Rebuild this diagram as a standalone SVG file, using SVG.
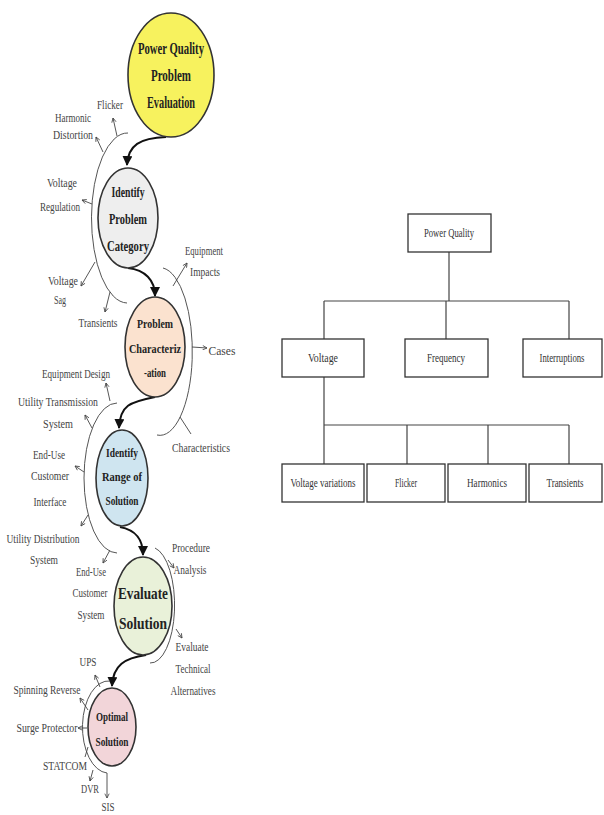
<svg xmlns="http://www.w3.org/2000/svg" width="604" height="815" viewBox="0 0 604 815">
<style>
.lb{font-family:"Liberation Serif","Times New Roman",serif;font-size:12.5px;fill:#444;text-anchor:middle}
.tb{font-family:"Liberation Serif","Times New Roman",serif;font-size:13px;fill:#333;text-anchor:middle}
.hd{font-family:"Liberation Serif","Times New Roman",serif;font-weight:bold;fill:#222;text-anchor:middle}
.nd{stroke:#333;stroke-width:1.6}
.cn{fill:none;stroke:#111;stroke-width:2}
.arc{fill:none;stroke:#555;stroke-width:1}
.ld{fill:none;stroke:#444;stroke-width:0.9}
.bx{fill:#fff;stroke:#333;stroke-width:1.3}
.tl{fill:none;stroke:#444;stroke-width:1.2}
</style>
<defs>
<marker id="ah" viewBox="0 0 10 10" refX="9" refY="5" markerWidth="5" markerHeight="5" orient="auto"><path d="M0,0 L10,5 L0,10 z" fill="#111"/></marker>
<marker id="sa" viewBox="0 0 10 10" refX="9" refY="5" markerWidth="6" markerHeight="6" orient="auto"><path d="M1,1 L9,5 L1,9" fill="none" stroke="#444" stroke-width="1.5"/></marker>
</defs>
<rect width="604" height="815" fill="#fff"/>

<g id="connectors">
<path class="cn" d="M166,137 C140,138 128,145 127,165" marker-end="url(#ah)"/>
<path class="cn" d="M128,268 C145,270 155,280 155,296" marker-end="url(#ah)"/>
<path class="cn" d="M155,397 C130,402 120,405 119,428" marker-end="url(#ah)"/>
<path class="cn" d="M120,527 C135,530 143,538 143,555" marker-end="url(#ah)"/>
<path class="cn" d="M146,655 C125,658 113,665 112,686" marker-end="url(#ah)"/>
<path class="arc" d="M128,133 A36 85 0 0 0 127,303"/>
<path class="arc" d="M163,268 A32 83 0 0 1 157,435"/>
<path class="arc" d="M117,403 A33 75 0 0 0 117,553"/>
<path class="arc" d="M155,548 A24 58 0 0 1 150,663"/>
<path class="arc" d="M110,681 A26 46 0 0 0 107,773"/>
<path class="ld" d="M117,136 L113,118" marker-end="url(#sa)"/>
<path class="ld" d="M103,152 L96,137" marker-end="url(#sa)"/>
<path class="ld" d="M92,204 L82,200" marker-end="url(#sa)"/>
<path class="ld" d="M95,262 L81,286" marker-end="url(#sa)"/>
<path class="ld" d="M110,292 L105,312" marker-end="url(#sa)"/>
<path class="ld" d="M173,286 L187,263" marker-end="url(#sa)"/>
<path class="ld" d="M192,347 L207,348" marker-end="url(#sa)"/>
<path class="ld" d="M180,417 L191,434"/>
<path class="ld" d="M110,401 L106,383" marker-end="url(#sa)"/>
<path class="ld" d="M92,428 L85,415" marker-end="url(#sa)"/>
<path class="ld" d="M84,472 L75,466" marker-end="url(#sa)"/>
<path class="ld" d="M88,515 L81,526" marker-end="url(#sa)"/>
<path class="ld" d="M110,550 L103,563" marker-end="url(#sa)"/>
<path class="ld" d="M168,560 L174,568" marker-end="url(#sa)"/>
<path class="ld" d="M176,629 L182,638" marker-end="url(#sa)"/>
<path class="ld" d="M100,687 L95,675" marker-end="url(#sa)"/>
<path class="ld" d="M88,710 L80,698" marker-end="url(#sa)"/>
<path class="ld" d="M87,728 L78,728" marker-end="url(#sa)"/>
<path class="ld" d="M88,747 L85,757"/>
<path class="ld" d="M93,770 L90,781" marker-end="url(#sa)"/>
<path class="ld" d="M107,773 L107,798" marker-end="url(#sa)"/>
<path class="tl" d="M449,252 V301 M324,301 H569 M324,301 V339 M446,301 V339 M569,301 V339 M324,377 V425 H569 M324,425 V464 M407,425 V464 M488,425 V464 M569,425 V464"/>
</g>

<g id="pq-eval"><ellipse class="nd" cx="171" cy="75" rx="43" ry="62" fill="#f7f25e"/>
<text class="hd" font-size="16.5" x="171" y="54" textLength="66" lengthAdjust="spacingAndGlyphs">Power Quality</text>
<text class="hd" font-size="16.5" x="171" y="81" textLength="40" lengthAdjust="spacingAndGlyphs">Problem</text>
<text class="hd" font-size="16.5" x="171" y="108" textLength="48" lengthAdjust="spacingAndGlyphs">Evaluation</text></g>

<g id="identify-cat"><ellipse class="nd" cx="128" cy="218" rx="30" ry="50" fill="#eeeeee"/>
<text class="hd" font-size="15" x="128" y="197" textLength="33" lengthAdjust="spacingAndGlyphs">Identify</text>
<text class="hd" font-size="15" x="128" y="224" textLength="38" lengthAdjust="spacingAndGlyphs">Problem</text>
<text class="hd" font-size="15" x="128" y="251" textLength="42" lengthAdjust="spacingAndGlyphs">Category</text></g>

<g id="problem-char"><ellipse class="nd" cx="155" cy="347" rx="30" ry="50" fill="#fbe2cf"/>
<text class="hd" font-size="13" x="155" y="328" textLength="36" lengthAdjust="spacingAndGlyphs">Problem</text>
<text class="hd" font-size="13" x="155" y="353" textLength="52" lengthAdjust="spacingAndGlyphs">Characteriz</text>
<text class="hd" font-size="13" x="155" y="377" textLength="22" lengthAdjust="spacingAndGlyphs">-ation</text></g>

<g id="identify-range"><ellipse class="nd" cx="122" cy="478" rx="26" ry="48" fill="#cfe5f0"/>
<text class="hd" font-size="13.5" x="122" y="457" textLength="32" lengthAdjust="spacingAndGlyphs">Identify</text>
<text class="hd" font-size="13.5" x="122" y="481" textLength="40" lengthAdjust="spacingAndGlyphs">Range of</text>
<text class="hd" font-size="13.5" x="122" y="505" textLength="33" lengthAdjust="spacingAndGlyphs">Solution</text></g>

<g id="evaluate"><ellipse class="nd" cx="143" cy="606" rx="29" ry="49" fill="#e9f1d9"/>
<text class="hd" font-size="17" x="143" y="599" textLength="50" lengthAdjust="spacingAndGlyphs">Evaluate</text>
<text class="hd" font-size="17" x="143" y="629" textLength="48" lengthAdjust="spacingAndGlyphs">Solution</text></g>

<g id="optimal"><ellipse class="nd" cx="112" cy="727" rx="24" ry="39" fill="#f2d5d9"/>
<text class="hd" font-size="13" x="112" y="721" textLength="32" lengthAdjust="spacingAndGlyphs">Optimal</text>
<text class="hd" font-size="13" x="112" y="746" textLength="33" lengthAdjust="spacingAndGlyphs">Solution</text></g>

<g id="labels">
<text class="lb" x="110" y="109" textLength="26" lengthAdjust="spacingAndGlyphs">Flicker</text>
<text class="lb" x="73" y="122" textLength="36" lengthAdjust="spacingAndGlyphs">Harmonic</text>
<text class="lb" x="73" y="139" textLength="40" lengthAdjust="spacingAndGlyphs">Distortion</text>
<text class="lb" x="62" y="187" textLength="30" lengthAdjust="spacingAndGlyphs">Voltage</text>
<text class="lb" x="60" y="211" textLength="40" lengthAdjust="spacingAndGlyphs">Regulation</text>
<text class="lb" x="63" y="285" textLength="30" lengthAdjust="spacingAndGlyphs">Voltage</text>
<text class="lb" x="60" y="304" textLength="12" lengthAdjust="spacingAndGlyphs">Sag</text>
<text class="lb" x="98" y="327" textLength="39" lengthAdjust="spacingAndGlyphs">Transients</text>
<text class="lb" x="204" y="255" textLength="38" lengthAdjust="spacingAndGlyphs">Equipment</text>
<text class="lb" x="205" y="276" textLength="30" lengthAdjust="spacingAndGlyphs">Impacts</text>
<text class="lb" x="222" y="355" textLength="27" lengthAdjust="spacingAndGlyphs">Cases</text>
<text class="lb" x="201" y="452" textLength="58" lengthAdjust="spacingAndGlyphs">Characteristics</text>
<text class="lb" x="76" y="378" textLength="68" lengthAdjust="spacingAndGlyphs">Equipment Design</text>
<text class="lb" x="58" y="406" textLength="80" lengthAdjust="spacingAndGlyphs">Utility Transmission</text>
<text class="lb" x="58" y="428" textLength="30" lengthAdjust="spacingAndGlyphs">System</text>
<text class="lb" x="49" y="459" textLength="32" lengthAdjust="spacingAndGlyphs">End-Use</text>
<text class="lb" x="50" y="480" textLength="38" lengthAdjust="spacingAndGlyphs">Customer</text>
<text class="lb" x="50" y="506" textLength="33" lengthAdjust="spacingAndGlyphs">Interface</text>
<text class="lb" x="43" y="543" textLength="73" lengthAdjust="spacingAndGlyphs">Utility Distribution</text>
<text class="lb" x="44" y="564" textLength="28" lengthAdjust="spacingAndGlyphs">System</text>
<text class="lb" x="91" y="576" textLength="30" lengthAdjust="spacingAndGlyphs">End-Use</text>
<text class="lb" x="90" y="597" textLength="35" lengthAdjust="spacingAndGlyphs">Customer</text>
<text class="lb" x="91" y="619" textLength="27" lengthAdjust="spacingAndGlyphs">System</text>
<text class="lb" x="191" y="552" textLength="38" lengthAdjust="spacingAndGlyphs">Procedure</text>
<text class="lb" x="190" y="574" textLength="33" lengthAdjust="spacingAndGlyphs">Analysis</text>
<text class="lb" x="192" y="651" textLength="33" lengthAdjust="spacingAndGlyphs">Evaluate</text>
<text class="lb" x="193" y="673" textLength="35" lengthAdjust="spacingAndGlyphs">Technical</text>
<text class="lb" x="193" y="695" textLength="45" lengthAdjust="spacingAndGlyphs">Alternatives</text>
<text class="lb" x="88" y="666" textLength="17" lengthAdjust="spacingAndGlyphs">UPS</text>
<text class="lb" x="47" y="694" textLength="67" lengthAdjust="spacingAndGlyphs">Spinning Reverse</text>
<text class="lb" x="47" y="732" textLength="61" lengthAdjust="spacingAndGlyphs">Surge Protector</text>
<text class="lb" x="65" y="770" textLength="44" lengthAdjust="spacingAndGlyphs">STATCOM</text>
<text class="lb" x="90" y="793" textLength="18" lengthAdjust="spacingAndGlyphs">DVR</text>
<text class="lb" x="108" y="811" textLength="13" lengthAdjust="spacingAndGlyphs">SIS</text>
</g>

<g id="power-quality"><rect class="bx" x="408" y="214" width="83" height="38"/><text class="tb" x="449" y="237" textLength="50" lengthAdjust="spacingAndGlyphs">Power Quality</text></g>
<g id="voltage"><rect class="bx" x="282" y="339" width="82" height="38"/><text class="tb" x="323" y="362" textLength="30" lengthAdjust="spacingAndGlyphs">Voltage</text></g>
<g id="frequency"><rect class="bx" x="405" y="339" width="83" height="38"/><text class="tb" x="446" y="362" textLength="38" lengthAdjust="spacingAndGlyphs">Frequency</text></g>
<g id="interruptions"><rect class="bx" x="523" y="339" width="79" height="38"/><text class="tb" x="562" y="362" font-size="11" textLength="45" lengthAdjust="spacingAndGlyphs">Interruptions</text></g>
<g id="voltage-variations"><rect class="bx" x="282" y="464" width="82" height="38"/><text class="tb" x="323" y="487" textLength="65" lengthAdjust="spacingAndGlyphs">Voltage variations</text></g>
<g id="flicker"><rect class="bx" x="367" y="464" width="78" height="38"/><text class="tb" x="406" y="487" textLength="22" lengthAdjust="spacingAndGlyphs">Flicker</text></g>
<g id="harmonics"><rect class="bx" x="448" y="464" width="78" height="38"/><text class="tb" x="487" y="487" textLength="40" lengthAdjust="spacingAndGlyphs">Harmonics</text></g>
<g id="transients"><rect class="bx" x="529" y="464" width="73" height="38"/><text class="tb" x="565" y="487" textLength="37" lengthAdjust="spacingAndGlyphs">Transients</text></g>
</svg>
